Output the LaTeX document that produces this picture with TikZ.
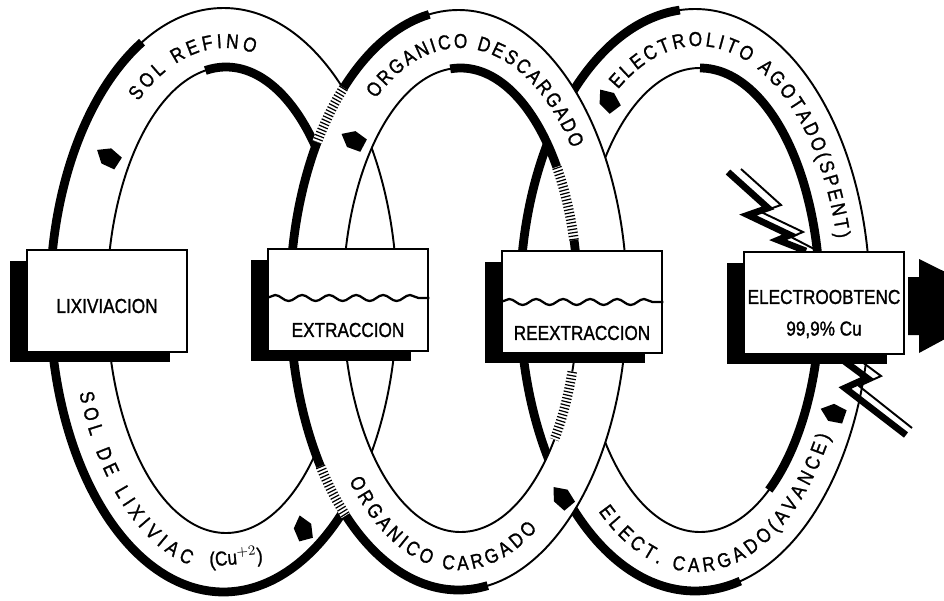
\documentclass[tikz,border=0pt]{standalone}
\usepackage{fontspec}
\setmainfont{Liberation Sans}
\newfontfamily\stencil[FakeStretch=.85,FakeBold=1.2]{Liberation Sans}
\usetikzlibrary{positioning,shadows,decorations.text,decorations.pathmorphing}
\newcommand\ringfont{\stencil\fontsize{11.5}{13}\selectfont}
\tikzset{
  ring fill/.style={fill=white,even odd rule},
  ring edge/.style={draw=black,line width=1.1pt},
  ring shade/.style={draw=black,line width=5pt,variable=\t,samples=90,smooth},
  hatch/.style={preaction={draw=white,line width=5.5pt,solid},draw=black,
    line width=5.5pt,dash pattern=on .7pt off 1.2pt},
  process box/.style={draw=black,line width=1.5pt,fill=white,minimum width=3.2cm,
    minimum height=2.04cm,general shadow={fill=black,shadow xshift=-.34cm,shadow yshift=-.21cm}},
  box label/.style={font=\stencil\fontsize{11.5}{18}\selectfont,align=center,inner sep=1pt},
  ring label/.style={decorate,decoration={text along path,text align=fit to path,
    text={|\ringfont|#1}}},
  wave/.style={line width=1.3pt,decorate,decoration={snake,amplitude=.06cm,segment length=.54cm}},
  flow mark/.style={fill=black},
  bolt/.style={draw=black,line width=3.8pt,line join=miter},
  bolt edge/.style={draw=black,line width=1.1pt}
}
\begin{document}
\begin{tikzpicture}[x=.02cm,y=.02cm]
  \useasboundingbox (0,0) rectangle (944,600);
  \clip (0,0) rectangle (944,600);
  \fill[white] (0,0) rectangle (944,600);
  % eslabon lixiviacion - extraccion
  \fill[ring fill] (223.5,300) ellipse[x radius=173.5,y radius=292] (226,300) ellipse[x radius=119,y radius=233];
  \draw[ring edge] (223.5,300) ellipse[x radius=173.5,y radius=292];
  \draw[ring edge] (226,300) ellipse[x radius=119,y radius=233];
  \draw[ring shade] plot[domain=118:320] ({223.5+173.5*cos(\t)},{300+292*sin(\t)});
  \draw[ring shade] plot[domain=100:-20] ({226+119*cos(\t)},{300+233*sin(\t)});
  % eslabon reextraccion - electroobtencion
  \fill[ring fill] (695,300) ellipse[x radius=175,y radius=291] (700,300) ellipse[x radius=120,y radius=232];
  \draw[ring edge] (695,300) ellipse[x radius=175,y radius=291];
  \draw[ring edge] (700,300) ellipse[x radius=120,y radius=232];
  \draw[ring shade] plot[domain=95:285] ({695+175*cos(\t)},{300+291*sin(\t)});
  \draw[ring shade] plot[domain=90:-55] ({700+120*cos(\t)},{300+232*sin(\t)});
  % eslabon central (delante)
  \fill[ring fill] (458.5,300) ellipse[x radius=168.5,y radius=290] (460.5,300) ellipse[x radius=117.5,y radius=232];
  \draw[ring edge] (458.5,300) ellipse[x radius=168.5,y radius=290];
  \draw[ring edge] (460.5,300) ellipse[x radius=117.5,y radius=232];
  \draw[ring shade] plot[domain=100:280] ({458.5+168.5*cos(\t)},{300+290*sin(\t)});
  \draw[ring shade] plot[domain=95:-5] ({460.5+117.5*cos(\t)},{300+232*sin(\t)});
  % cruces rayados
  \draw[hatch] (458.5,300) ++(133:168.5 and 290) arc[start angle=133,end angle=147,x radius=168.5,y radius=290];
  \draw[hatch] (458.5,300) ++(215:168.5 and 290) arc[start angle=215,end angle=228,x radius=168.5,y radius=290];
  \draw[hatch] (460.5,300) ++(15:117.5 and 232) arc[start angle=15,end angle=35,x radius=117.5,y radius=232];
  \draw[hatch] (460.5,300) ++(-18:117.5 and 232) arc[start angle=-18,end angle=-37,x radius=117.5,y radius=232];
  % textos de las corrientes
  \path[ring label={SOL REFINO}] (225,300) ++(128:141 and 252) arc[start angle=128,end angle=78,x radius=141,y radius=252];
  \path[ring label={ORGANICO DESCARGADO}] (460,300) ++(127:140 and 252) arc[start angle=127,end angle=37,x radius=140,y radius=252];
  \path[ring label={ELECTROLITO AGOTADO(SPENT)}] (698,300) ++(124:143 and 254) arc[start angle=124,end angle=14,x radius=143,y radius=254];
  \path[ring label={SOL DE LIXIVIAC}] (224,300) ++(200:154 and 272) arc[start angle=200,end angle=257,x radius=154,y radius=272];
  \node[font=\ringfont,rotate=5] (cu) at (236,42) {(Cu$^{+2}$)};
  \path[ring label={ORGANICO CARGADO}] (459,300) ++(222:148 and 270) arc[start angle=222,end angle=302,x radius=148,y radius=270];
  \path[ring label={ELECT. CARGADO(AVANCE)}] (696,300) ++(231:155 and 272) arc[start angle=231,end angle=330,x radius=155,y radius=272];
  % flechas de flujo
  \foreach \x/\y/\a in {108/443/147,353/460/152,608/500/127,303/72/105,562/103/130,833/187/161}
    \fill[flow mark,shift={(\x,\y)},rotate=\a] (13,0) -- (2,9) -- (-12,7) -- (-12,-7) -- (2,-9) -- cycle;
  % rayos
  \draw[bolt] (728,428) -- (768,392) -- (748,385) -- (790,365) -- (778,360) -- (806,349);
  \draw[bolt edge] (741,431) -- (781,395) -- (761,388) -- (803,368) -- (791,363) -- (818,349);
  \draw[bolt] (836,245) -- (867,222) -- (845,212) -- (906,165);
  \draw[bolt edge] (850,247) -- (881,224) -- (859,214) -- (912,172);
  % etapas
  \node[process box] (lix) at (107,299) {};
  \node[process box] (extr) at (348,300) {};
  \node[process box] (reextr) at (582,298) {};
  \node[process box] (elec) at (824,297) {};
  \draw[wave] ([yshift=.04cm]extr.west) -- ([yshift=.04cm]extr.east);
  \draw[wave] (reextr.west) -- (reextr.east);
  \node[box label] (lixtxt) at ([yshift=-.1cm]lix.center) {LIXIVIACION};
  \node[box label] (extrtxt) at ([yshift=-.6cm]extr.center) {EXTRACCION};
  \node[box label] (reextrtxt) at ([yshift=-.62cm]reextr.center) {REEXTRACCION};
  \node[box label] (electxt) at ([yshift=-.22cm]elec.center) {ELECTROOBTENC\\99,9\% Cu};
  \fill (908,323) -- (919,323) -- (919,341) -- (1010,296) -- (919,247) -- (919,265) -- (908,265) -- cycle;
\end{tikzpicture}
\end{document}
